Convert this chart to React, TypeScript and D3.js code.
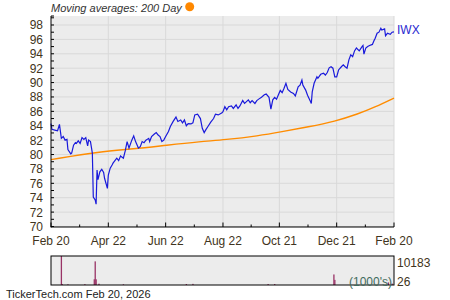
import React from "react";
import * as d3 from "d3";

const ticker = "IWX";
const title = "Moving averages: 200 Day";
const footer = "TickerTech.com  Feb 20, 2026";
const xTickLabels = ["Feb 20", "Apr 22", "Jun 22", "Aug 22", "Oct 21", "Dec 21", "Feb 20"];
const xTickDates = ["2025-02-20", "2025-04-22", "2025-06-22", "2025-08-22", "2025-10-21", "2025-12-21", "2026-02-20"];
const yTicks = [70, 72, 74, 76, 78, 80, 82, 84, 86, 88, 90, 92, 94, 96, 98];
const volLabels = ["10183", "26"];

const priceDates = [
  "2025-02-20","2025-02-21","2025-02-24","2025-02-27","2025-03-01","2025-03-03","2025-03-05","2025-03-07","2025-03-09","2025-03-10",
  "2025-03-13","2025-03-14","2025-03-16","2025-03-18","2025-03-19","2025-03-21","2025-03-23","2025-03-25","2025-03-27","2025-03-29",
  "2025-03-31","2025-04-01","2025-04-03","2025-04-05","2025-04-06","2025-04-08","2025-04-09","2025-04-10","2025-04-11","2025-04-13",
  "2025-04-15","2025-04-17","2025-04-18","2025-04-21","2025-04-22","2025-04-24","2025-04-26","2025-04-27","2025-04-29","2025-05-01",
  "2025-05-03","2025-05-05","2025-05-08","2025-05-10","2025-05-12","2025-05-14","2025-05-17","2025-05-19","2025-05-21","2025-05-24",
  "2025-05-26","2025-05-28","2025-05-30","2025-06-01","2025-06-04","2025-06-05","2025-06-07","2025-06-10","2025-06-12","2025-06-14",
  "2025-06-16","2025-06-18","2025-06-20","2025-06-22","2025-06-25","2025-06-27","2025-06-30","2025-07-03","2025-07-05","2025-07-08",
  "2025-07-10","2025-07-12","2025-07-14","2025-07-16","2025-07-19","2025-07-21","2025-07-23","2025-07-26","2025-07-29","2025-07-31",
  "2025-08-02","2025-08-04","2025-08-06","2025-08-09","2025-08-12","2025-08-14","2025-08-17","2025-08-21","2025-08-22","2025-08-24",
  "2025-08-26","2025-08-28","2025-08-31","2025-09-02","2025-09-05","2025-09-07","2025-09-09","2025-09-12","2025-09-14","2025-09-16",
  "2025-09-18","2025-09-20","2025-09-22","2025-09-25","2025-09-27","2025-09-29","2025-10-02","2025-10-05","2025-10-07","2025-10-10",
  "2025-10-12","2025-10-14","2025-10-16","2025-10-18","2025-10-20","2025-10-22","2025-10-24","2025-10-26","2025-10-28","2025-10-30",
  "2025-11-02","2025-11-05","2025-11-07","2025-11-10","2025-11-12","2025-11-14","2025-11-15","2025-11-18","2025-11-20","2025-11-23",
  "2025-11-24","2025-11-25","2025-11-27","2025-11-30","2025-12-01","2025-12-04","2025-12-07","2025-12-09","2025-12-11","2025-12-13",
  "2025-12-15","2025-12-17","2025-12-19","2025-12-21","2025-12-23","2025-12-26","2025-12-28","2025-12-30","2026-01-01","2026-01-03",
  "2026-01-05","2026-01-07","2026-01-09","2026-01-11","2026-01-14","2026-01-17","2026-01-18","2026-01-19","2026-01-21","2026-01-23",
  "2026-01-25","2026-01-28","2026-01-30","2026-01-31","2026-02-02","2026-02-04","2026-02-06","2026-02-07","2026-02-10","2026-02-11",
  "2026-02-13","2026-02-16","2026-02-18","2026-02-20"
];
const priceValues = [
  84.3,83.5,83.4,83.3,84.2,82.25,82.5,82.0,82.1,80.7,
  80.1,80.2,81.3,81.65,81.55,81.9,81.55,82.35,82.1,82.35,
  81.2,82.0,81.8,80.2,74.1,73.7,73.1,77.85,76.5,77.6,
  77.95,77.5,76.7,75.3,77.15,78.1,78.55,78.8,79.15,79.5,
  79.15,79.8,79.5,80.5,81.8,80.9,82.0,82.6,81.8,80.9,
  81.1,81.8,81.65,82.0,82.25,81.8,82.5,82.85,83.05,82.7,
  82.5,81.8,82.0,82.5,83.2,83.9,84.6,85.2,84.6,84.8,
  84.4,84.8,84.0,84.3,84.25,84.4,85.5,85.6,85.0,83.65,
  83.05,83.5,83.9,84.5,85.0,85.6,85.5,85.8,85.95,86.65,
  86.2,86.65,86.75,86.4,86.9,86.4,86.75,87.5,87.1,87.35,
  87.6,87.2,87.5,87.1,87.5,87.7,87.95,88.3,88.4,87.95,
  86.3,87.6,87.95,87.7,88.3,88.9,88.6,89.2,89.9,89.05,
  88.7,88.5,88.15,89.4,89.65,90.35,89.65,88.95,88.25,87.4,
  87.1,88.7,89.9,90.8,90.6,91.15,91.3,91.05,91.4,92.05,
  92.2,92.0,90.8,90.8,91.75,92.2,92.45,92.2,92.0,93.15,
  93.85,93.6,94.4,94.8,94.4,95.0,95.15,93.95,94.8,95.0,
  95.15,95.3,95.9,96.15,96.85,97.0,97.55,97.3,97.45,96.5,
  96.85,96.7,97.0,97.05
];

const maDates = ["2025-02-20","2025-04-13","2025-05-19","2025-06-23","2025-07-29","2025-08-24","2025-09-29","2025-10-23","2025-11-21","2025-12-19","2026-01-13","2026-01-31","2026-02-20"];
const maValues = [79.3,80.4,80.77,81.3,81.8,82.05,82.6,83.15,83.85,84.6,85.65,86.6,87.85];

const volDates = ["2025-03-03","2025-03-04","2025-03-10","2025-03-28","2025-04-07","2025-04-08","2025-04-09","2025-04-12","2025-05-08","2025-07-14","2025-07-21","2025-10-09","2025-10-16","2025-12-18","2025-12-19","2026-02-14","2026-02-18"];
const volValues = [10183,300,250,300,2000,8300,2000,450,250,350,400,350,350,3700,1800,900,500];

const parse = d3.timeParse("%Y-%m-%d");

export default function App() {
  const L = 51, R = 394, T = 16, B = 227;
  const VT = 256, VB = 285;
  const x = d3.scaleTime().domain([parse("2025-02-20")!, parse("2026-02-20")!]).range([L, R]);
  const y = d3.scaleLinear().domain([69.93, 99.25]).range([B, T]);
  const yv = d3.scaleLinear().domain([0, 10183]).range([VB, VT]);

  const price = priceDates.map((d, i) => [parse(d)!, priceValues[i]] as [Date, number]);
  const ma = maDates.map((d, i) => [parse(d)!, maValues[i]] as [Date, number]);
  const line = d3.line<[Date, number]>().x(d => x(d[0])).y(d => y(d[1]));
  const maLine = d3.line<[Date, number]>().x(d => x(d[0])).y(d => y(d[1])).curve(d3.curveBasis);

  const xt = xTickDates.map(d => x(parse(d)!));
  const minorX = xt.slice(0, -1).map((v, i) => (v + xt[i + 1]) / 2);
  const intTicks = d3.range(70, 100);
  const textColor = "#3f3420";
  const font = "Liberation Sans, Arial, sans-serif";

  return (
    <svg width={450} height={300} style={{ position: "absolute", left: 0, top: 0, background: "#fff" }} fontFamily={font}>
      <text x={L} y={12} fontSize={11} fontStyle="italic" fill="#333">{title}</text>
      <circle cx={189.7} cy={6.7} r={4.5} fill="#ff8800" />
      <rect x={L} y={T} width={R - L} height={B - T} fill="#ececec" />
      {yTicks.map(t => (
        <line key={"gy" + t} x1={L} x2={R} y1={y(t)} y2={y(t)} stroke="#d9d9d9" strokeWidth={1} />
      ))}
      {xt.slice(1).map((v, i) => (
        <line key={"gx" + i} x1={v} x2={v} y1={T} y2={B} stroke="#d9d9d9" strokeWidth={1} />
      ))}
      <path d={maLine(ma) || ""} fill="none" stroke="#ff8c00" strokeWidth={1.4} />
      <path d={line(price) || ""} fill="none" stroke="#1a1adb" strokeWidth={1.2} />
      <line x1={L} x2={L} y1={T} y2={B + 0.5} stroke="#000" strokeWidth={1} />
      <line x1={L} x2={R} y1={B} y2={B} stroke="#000" strokeWidth={1} />
      {intTicks.map(t => (
        <line key={"yt" + t} x1={L} x2={L + 3} y1={y(t)} y2={y(t)} stroke="#000" strokeWidth={1} />
      ))}
      <line x1={L} x2={L + 3} y1={T} y2={T} stroke="#000" strokeWidth={1} />
      {yTicks.map(t => (
        <text key={"yl" + t} x={43} y={y(t) + 4.5} fontSize={12} textAnchor="end" fill={textColor}>{t}</text>
      ))}
      {xt.map((v, i) => (
        <line key={"xt" + i} x1={v} x2={v} y1={B - 4.5} y2={B} stroke="#000" strokeWidth={1} />
      ))}
      {minorX.map((v, i) => (
        <line key={"mx" + i} x1={v} x2={v} y1={B - 2.5} y2={B} stroke="#000" strokeWidth={1} />
      ))}
      {xTickLabels.map((s, i) => (
        <text key={"xl" + i} x={xt[i]} y={245} fontSize={12} textAnchor="middle" fill={textColor}>{s}</text>
      ))}
      <text x={397} y={34} fontSize={12} fill="#2a2ad0">{ticker}</text>
      <rect x={L} y={VT} width={R - L} height={VB - VT} fill="#ececec" />
      {volDates.map((d, i) => (
        <rect key={"v" + i} x={x(parse(d)!) - 0.6} y={yv(volValues[i])} width={1.3} height={VB - yv(volValues[i])} fill="#993366" />
      ))}
      <rect x={L} y={VT} width={R - L} height={VB - VT} fill="none" stroke="#000" strokeWidth={1} />
      <text x={392} y={286} fontSize={12} textAnchor="end" fill="#3f6b5c">(1000's)</text>
      <text x={397} y={267} fontSize={12} fill={textColor}>{volLabels[0]}</text>
      <text x={397} y={286} fontSize={12} fill={textColor}>{volLabels[1]}</text>
      <text x={6} y={298} fontSize={11} fill="#222">{footer}</text>
    </svg>
  );
}
